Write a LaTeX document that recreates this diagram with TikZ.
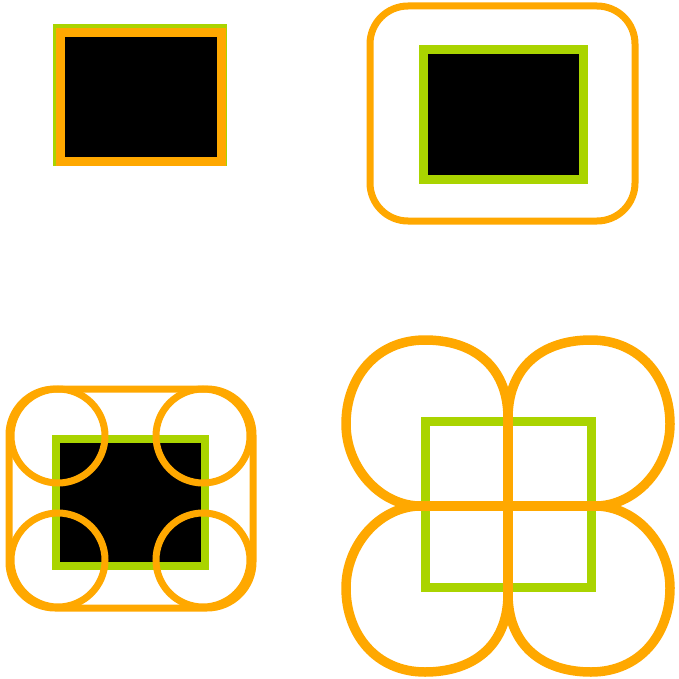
\documentclass[tikz,border=0pt]{standalone}
\usepackage{tikz}
\usetikzlibrary{calc}
\definecolor{lime}{RGB}{170,212,0}
\definecolor{amber}{RGB}{255,168,0}

\begin{document}
\begin{tikzpicture}[
  x=1pt, y=-1pt,
  core/.style={fill=black},
  greenframe/.style={draw=lime, line width=9pt},
  orangeframe/.style={draw=amber, line width=9pt},
  ring/.style={draw=amber, line width=7pt},
  petal/.style={draw=amber, line width=9.5pt, line join=round, line cap=round},
]
\useasboundingbox (0,0) rectangle (678,679);

% top left
\draw[greenframe] (57,29) rectangle (222,162);
\draw[orangeframe, core] (60.5,32.5) rectangle (221.5,161.5);

% top right
\draw[ring, rounded corners=38pt] (370,6) rectangle (635,221);
\draw[greenframe, core] (423,50) rectangle (583,179);

% bottom left
\draw[greenframe, core, line width=8pt] (55.5,439) rectangle (205,566);
\draw[ring, rounded corners=46pt] (9,389) rectangle (253,608);
\foreach \cx/\cy in {58/436, 203/436, 58/560, 203/560}
  \draw[ring] (\cx,\cy) circle[radius=47];

% bottom right
\draw[greenframe] (425.5,421.5) rectangle (591.5,587.5);
\coordinate (hub) at (508,506);
\foreach \sx/\sy in {1/1, -1/1, 1/-1, -1/-1}
  \draw[petal, shift={(hub)}, xscale=\sx, yscale=\sy]
    (0,-90) .. controls (-1,-140) and (-35,-166) .. (-83,-166)
            .. controls (-132,-166) and (-162,-128) .. (-162,-82)
            .. controls (-162,-40) and (-130,-2) .. (-90,0);
\draw[petal] ($(hub)+(-90,0)$) -- ($(hub)+(90,0)$);
\draw[petal] ($(hub)+(0,-90)$) -- ($(hub)+(0,90)$);
\end{tikzpicture}
\end{document}
